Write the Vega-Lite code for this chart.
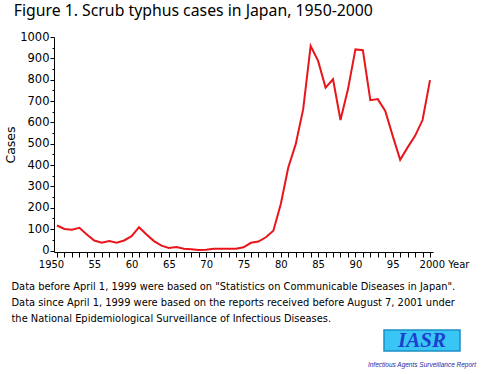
{
  "$schema": "https://vega.github.io/schema/vega-lite/v6.json",
  "padding": {"left": 4, "top": 3, "right": 0, "bottom": 0},
  "background": "white",
  "title": {"text": "Figure 1. Scrub typhus cases in Japan, 1950-2000", "anchor": "start", "frame": "bounds", "dx": 9, "font": "Noto Sans", "fontSize": 15.8, "fontWeight": "normal", "color": "#000", "offset": 11},
  "config": {
    "view": {"stroke": null},
    "axis": {"grid": false, "domainColor": "#000", "tickColor": "#000", "labelColor": "#000", "titleColor": "#000", "labelFont": "DejaVu Sans", "titleFont": "DejaVu Sans", "titleFontWeight": "normal", "domainWidth": 1, "tickWidth": 1}
  },
  "bounds": "flush",
  "spacing": 78,
  "vconcat": [
    {
      "width": 379,
      "height": 215,
      "data": {"values": [
        {"year": 1950, "cases": 117}, {"year": 1951, "cases": 101}, {"year": 1952, "cases": 97}, {"year": 1953, "cases": 106},
        {"year": 1954, "cases": 75}, {"year": 1955, "cases": 47}, {"year": 1956, "cases": 37}, {"year": 1957, "cases": 44},
        {"year": 1958, "cases": 37}, {"year": 1959, "cases": 47}, {"year": 1960, "cases": 67}, {"year": 1961, "cases": 109},
        {"year": 1962, "cases": 75}, {"year": 1963, "cases": 44}, {"year": 1964, "cases": 23}, {"year": 1965, "cases": 12},
        {"year": 1966, "cases": 16}, {"year": 1967, "cases": 8}, {"year": 1968, "cases": 6}, {"year": 1969, "cases": 2},
        {"year": 1970, "cases": 4}, {"year": 1971, "cases": 8}, {"year": 1972, "cases": 8}, {"year": 1973, "cases": 8},
        {"year": 1974, "cases": 8}, {"year": 1975, "cases": 15}, {"year": 1976, "cases": 36}, {"year": 1977, "cases": 42},
        {"year": 1978, "cases": 62}, {"year": 1979, "cases": 93}, {"year": 1980, "cases": 218}, {"year": 1981, "cases": 389},
        {"year": 1982, "cases": 498}, {"year": 1983, "cases": 662}, {"year": 1984, "cases": 958}, {"year": 1985, "cases": 888},
        {"year": 1986, "cases": 763}, {"year": 1987, "cases": 802}, {"year": 1988, "cases": 611}, {"year": 1989, "cases": 755},
        {"year": 1990, "cases": 942}, {"year": 1991, "cases": 938}, {"year": 1992, "cases": 704}, {"year": 1993, "cases": 709},
        {"year": 1994, "cases": 654}, {"year": 1995, "cases": 537}, {"year": 1996, "cases": 425}, {"year": 1997, "cases": 483},
        {"year": 1998, "cases": 537}, {"year": 1999, "cases": 611}, {"year": 2000, "cases": 798}
      ]},
      "mark": {"type": "line", "color": "#e8161b", "strokeWidth": 2},
      "encoding": {
        "x": {
          "field": "year", "type": "quantitative",
          "scale": {"domain": [1949.6, 2000.4], "nice": false, "zero": false},
          "axis": {
            "values": [1950,1951,1952,1953,1954,1955,1956,1957,1958,1959,1960,1961,1962,1963,1964,1965,1966,1967,1968,1969,1970,1971,1972,1973,1974,1975,1976,1977,1978,1979,1980,1981,1982,1983,1984,1985,1986,1987,1988,1989,1990,1991,1992,1993,1994,1995,1996,1997,1998,1999,2000],
            "labelExpr": "datum.value % 5 != 0 ? '' : datum.value == 1950 ? '1950' : datum.value == 2000 ? '2000 Year' : '' + (datum.value % 100)",
            "labelFontSize": 10,
            "labelPadding": 2,
            "tickSize": 5,
            "labelOverlap": false,
            "labelFlush": false,
            "labelOffset": {"condition": [{"test": "datum.value == 2000", "value": 14}, {"test": "datum.value == 1950", "value": -6}], "value": 0},
            "title": [
              "Data before April 1, 1999 were based on \"Statistics on Communicable Diseases in Japan\".",
              "Data since April 1, 1999 were based on the reports received before August 7, 2001 under",
              "the National Epidemiological Surveillance of Infectious Diseases."
            ],
            "titleX": -43,
            "titleY": 29,
            "titleAlign": "left",
            "titleAnchor": "start",
            "titleBaseline": "top",
            "titleFontSize": 9.9,
            "titleLineHeight": 16
          }
        },
        "y": {
          "field": "cases", "type": "quantitative",
          "scale": {"domain": [-7, 1000], "nice": false, "zero": false},
          "axis": {
            "values": [0,50,100,150,200,250,300,350,400,450,500,550,600,650,700,750,800,850,900,950,1000],
            "labelExpr": "datum.value % 100 == 0 ? '' + datum.value : ''",
            "tickSize": {"condition": {"test": "datum.value % 100 != 0", "value": 2}, "value": 4},
            "labelFontSize": 11.5,
            "labelPadding": 1,
            "title": "Cases",
            "titleFontSize": 12.5,
            "titlePadding": 2
          }
        }
      }
    },
    {
      "bounds": "flush",
      "spacing": 10,
      "hconcat": [
        {"width": 320, "height": 21, "data": {"values": [{"k": 1}]}, "mark": {"type": "rect", "opacity": 0}, "encoding": {}},
        {
          "width": 76, "height": 21,
          "data": {"values": [{"logo": "IASR"}]},
          "title": {"text": "Infectious Agents Surveillance Report", "orient": "bottom", "fontSize": 6.5, "fontStyle": "italic", "fontWeight": "normal", "color": "#1a2aa8", "offset": 10, "anchor": "middle", "font": "Liberation Sans"},
          "layer": [
            {"mark": {"type": "rect", "fill": "#3ac6f5", "stroke": "#1c8fc4", "strokeWidth": 1.5}, "encoding": {}},
            {"mark": {"type": "text", "font": "Liberation Serif", "fontSize": 21, "fontWeight": "bold", "fontStyle": "italic", "color": "#1c3fcf", "baseline": "middle", "align": "center"}, "encoding": {"text": {"field": "logo"}}}
          ]
        }
      ]
    }
  ]
}
